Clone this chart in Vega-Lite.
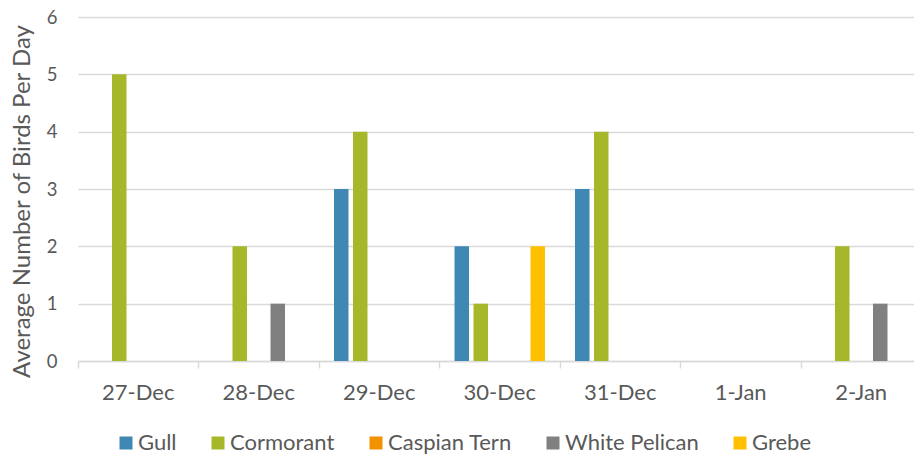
{
  "$schema": "https://vega.github.io/schema/vega-lite/v6.json",
  "autosize": "none",
  "width": 836,
  "height": 344,
  "padding": {"left": 78, "top": 17, "right": 0, "bottom": 98},
  "background": "white",
  "config": {
    "font": "Lato",
    "view": {"stroke": null},
    "axis": {"labelColor": "#595959", "titleColor": "#595959", "titleFontWeight": "normal"}
  },
  "data": {
    "values": [
      {"date": "27-Dec", "species": "Gull", "value": 0},
      {"date": "27-Dec", "species": "Cormorant", "value": 5},
      {"date": "27-Dec", "species": "Caspian Tern", "value": 0},
      {"date": "27-Dec", "species": "White Pelican", "value": 0},
      {"date": "27-Dec", "species": "Grebe", "value": 0},
      {"date": "28-Dec", "species": "Gull", "value": 0},
      {"date": "28-Dec", "species": "Cormorant", "value": 2},
      {"date": "28-Dec", "species": "Caspian Tern", "value": 0},
      {"date": "28-Dec", "species": "White Pelican", "value": 1},
      {"date": "28-Dec", "species": "Grebe", "value": 0},
      {"date": "29-Dec", "species": "Gull", "value": 3},
      {"date": "29-Dec", "species": "Cormorant", "value": 4},
      {"date": "29-Dec", "species": "Caspian Tern", "value": 0},
      {"date": "29-Dec", "species": "White Pelican", "value": 0},
      {"date": "29-Dec", "species": "Grebe", "value": 0},
      {"date": "30-Dec", "species": "Gull", "value": 2},
      {"date": "30-Dec", "species": "Cormorant", "value": 1},
      {"date": "30-Dec", "species": "Caspian Tern", "value": 0},
      {"date": "30-Dec", "species": "White Pelican", "value": 0},
      {"date": "30-Dec", "species": "Grebe", "value": 2},
      {"date": "31-Dec", "species": "Gull", "value": 3},
      {"date": "31-Dec", "species": "Cormorant", "value": 4},
      {"date": "31-Dec", "species": "Caspian Tern", "value": 0},
      {"date": "31-Dec", "species": "White Pelican", "value": 0},
      {"date": "31-Dec", "species": "Grebe", "value": 0},
      {"date": "1-Jan", "species": "Gull", "value": 0},
      {"date": "1-Jan", "species": "Cormorant", "value": 0},
      {"date": "1-Jan", "species": "Caspian Tern", "value": 0},
      {"date": "1-Jan", "species": "White Pelican", "value": 0},
      {"date": "1-Jan", "species": "Grebe", "value": 0},
      {"date": "2-Jan", "species": "Gull", "value": 0},
      {"date": "2-Jan", "species": "Cormorant", "value": 2},
      {"date": "2-Jan", "species": "Caspian Tern", "value": 0},
      {"date": "2-Jan", "species": "White Pelican", "value": 1},
      {"date": "2-Jan", "species": "Grebe", "value": 0}
    ]
  },
  "mark": {"type": "bar"},
  "encoding": {
    "x": {
      "field": "date",
      "type": "nominal",
      "sort": ["27-Dec", "28-Dec", "29-Dec", "30-Dec", "31-Dec", "1-Jan", "2-Jan"],
      "scale": {"range": [0, 843.5], "paddingInner": 0, "paddingOuter": 0},
      "axis": {
        "title": null,
        "labelAngle": 0,
        "labelFontSize": 22,
        "labelPadding": 14,
        "bandPosition": 0,
        "ticks": true,
        "tickSize": 7,
        "tickColor": "#D9D9D9",
        "tickWidth": 1.5,
        "domainColor": "#D9D9D9",
        "domainWidth": 1.5,
        "grid": false
      }
    },
    "xOffset": {
      "field": "species",
      "type": "nominal",
      "sort": ["Gull", "Cormorant", "Caspian Tern", "White Pelican", "Grebe"],
      "scale": {"paddingInner": 0.237, "paddingOuter": 0.79}
    },
    "y": {
      "field": "value",
      "type": "quantitative",
      "scale": {"domain": [0, 6], "nice": false},
      "axis": {
        "title": "Average Number of Birds Per Day",
        "titleFontSize": 24,
        "titlePadding": 12,
        "titleY": 184,
        "values": [0, 1, 2, 3, 4, 5, 6],
        "labelFontSize": 18.5,
        "labelPadding": 21,
        "ticks": false,
        "domain": false,
        "grid": true,
        "gridColor": "#D9D9D9",
        "gridWidth": 1.5
      }
    },
    "color": {
      "field": "species",
      "type": "nominal",
      "sort": ["Gull", "Cormorant", "Caspian Tern", "White Pelican", "Grebe"],
      "scale": {
        "domain": ["Gull", "Cormorant", "Caspian Tern", "White Pelican", "Grebe"],
        "range": ["#3F88B4", "#A6B82A", "#F39200", "#808080", "#FFC000"]
      },
      "legend": {
        "title": null,
        "orient": "none",
        "direction": "horizontal",
        "columns": 5,
        "legendX": 37,
        "legendY": 415,
        "padding": 0,
        "columnPadding": 30,
        "symbolType": "square",
        "symbolSize": 169,
        "symbolStrokeWidth": 0,
        "labelFontSize": 22,
        "labelColor": "#595959",
        "labelOffset": 1
      }
    }
  }
}
